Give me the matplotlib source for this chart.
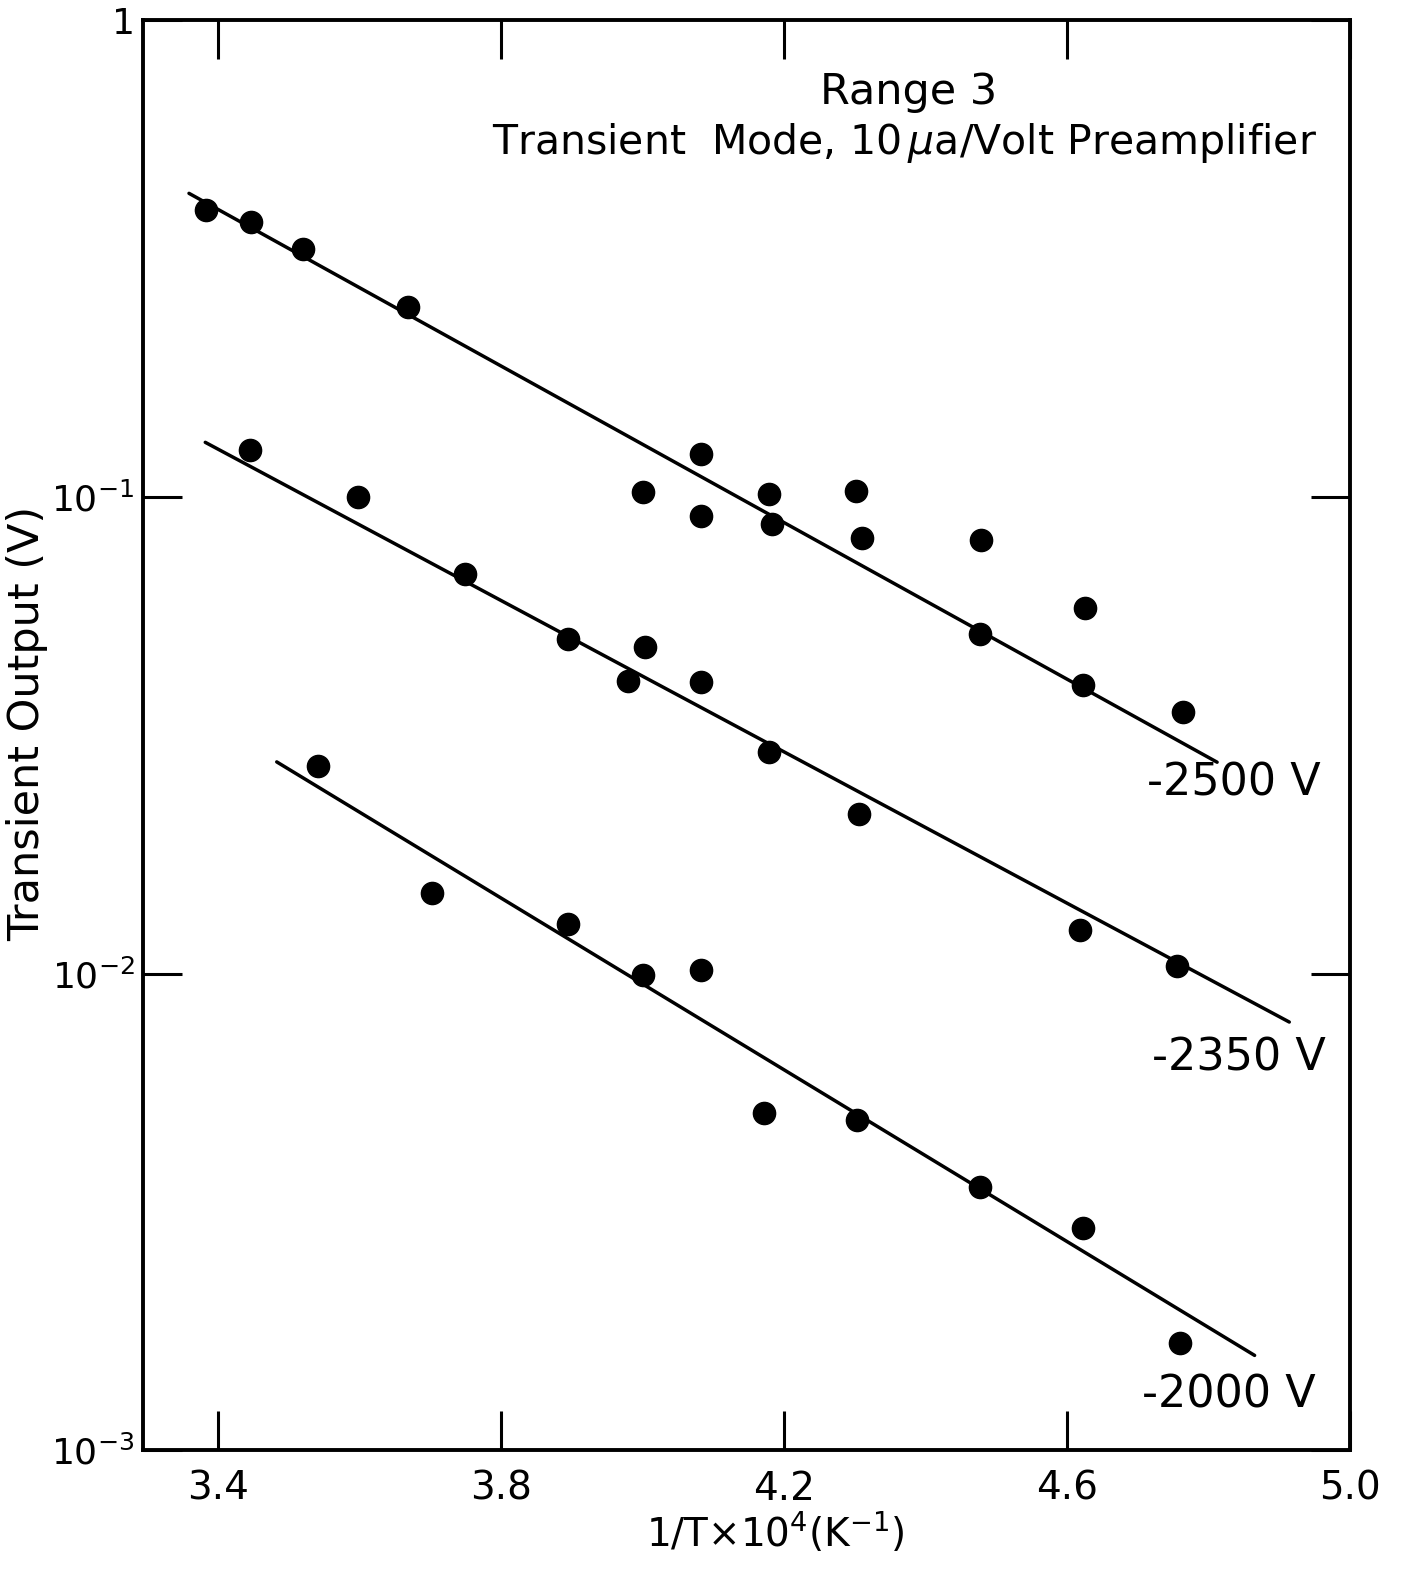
# transient output vs inverse temperature, Range 3
import matplotlib
matplotlib.use('Agg')
import matplotlib.pyplot as plt
from matplotlib.ticker import FixedLocator, FixedFormatter, NullLocator

plt.rcParams['font.family'] = ['DejaVu Sans']
plt.rcParams['mathtext.fontset'] = 'dejavusans'

# -2500 V data
x_2500 = [3.383, 3.447, 3.520, 3.668, 4.083, 4.001, 4.083, 4.179, 4.183,
          4.302, 4.310, 4.479, 4.477, 4.626, 4.623, 4.764]
y_2500 = [0.401, 0.377, 0.332, 0.250, 0.1229, 0.1023, 0.0911, 0.1013, 0.0877,
          0.1028, 0.0819, 0.0811, 0.0515, 0.0584, 0.0403, 0.0353]
# -2350 V data
x_2350 = [3.445, 3.598, 3.749, 3.894, 4.004, 3.979, 4.083, 4.179, 4.306,
          4.618, 4.756]
y_2350 = [0.1253, 0.0999, 0.0688, 0.0503, 0.0484, 0.0411, 0.0409, 0.0291,
          0.0216, 0.01233, 0.01036]
# -2000 V data
x_2000 = [3.541, 3.702, 3.895, 4.000, 4.082, 4.172, 4.303, 4.477, 4.622, 4.759]
y_2000 = [0.0272, 0.01475, 0.01269, 0.00992, 0.01016, 0.00510, 0.00493,
          0.00356, 0.00292, 0.00168]

# fitted lines (end points)
fit_x = {'2500': [3.359, 4.812], '2350': [3.382, 4.914], '2000': [3.483, 4.865]}
fit_y = {'2500': [0.4336, 0.02776], '2350': [0.1302, 0.00791], '2000': [0.0278, 0.00158]}

curve_labels = ['-2500 V', '-2350 V', '-2000 V']
label_x = [4.836, 4.843, 4.829]
label_y = [0.0251, 0.00665, 0.001305]

xticks = [3.4, 3.8, 4.2, 4.6, 5.0]
xticklabels = ['3.4', '3.8', '4.2', '4.6', '5.0']
yticks = [1e-3, 1e-2, 1e-1, 1]
yticklabels = [r'$10^{-3}$', r'$10^{-2}$', r'$10^{-1}$', '1']

fig = plt.figure(figsize=(14.02, 15.69), dpi=100)
ax = fig.add_axes([0.102, 0.0758, 0.861, 0.9112])

for key in ['2500', '2350', '2000']:
    ax.plot(fit_x[key], fit_y[key], color='black', lw=2.5, solid_capstyle='round')

for xs, ys in [(x_2500, y_2500), (x_2350, y_2350), (x_2000, y_2000)]:
    ax.plot(xs, ys, 'o', color='black', ms=16, mec='black')

ax.set_yscale('log')
ax.set_xlim(3.294, 5.0)
ax.set_ylim(1e-3, 1)

ax.xaxis.set_major_locator(FixedLocator(xticks))
ax.xaxis.set_major_formatter(FixedFormatter(xticklabels))
ax.yaxis.set_major_locator(FixedLocator(yticks))
ax.yaxis.set_major_formatter(FixedFormatter(yticklabels))
ax.yaxis.set_minor_locator(NullLocator())
ax.xaxis.set_minor_locator(NullLocator())

ax.tick_params(axis='both', direction='in', length=28, width=2.2,
               top=True, right=True, labelsize=28, pad=14)
ax.tick_params(axis='y', pad=6, labelsize=26)

for s in ax.spines.values():
    s.set_linewidth(2.8)

ax.set_xlabel(r'1/T$\times$10$^{4}$(K$^{-1}$)', fontsize=28)
ax.xaxis.set_label_coords(0.524, -0.042)
ax.set_ylabel('Transient Output (V)', fontsize=31)
ax.yaxis.set_label_coords(-0.079, 0.508)

ax.text(0.634, 0.95, 'Range 3', transform=ax.transAxes, fontsize=31,
        ha='center', va='center')
ax.text(0.631, 0.914, r'Transient  Mode, 10$\,\mu$a/Volt Preamplifier',
        transform=ax.transAxes, fontsize=29.5, ha='center', va='center')

for lbl, lx, ly in zip(curve_labels, label_x, label_y):
    ax.text(lx, ly, lbl, fontsize=32, ha='center', va='center')

fig.savefig('out.png', dpi=100)
